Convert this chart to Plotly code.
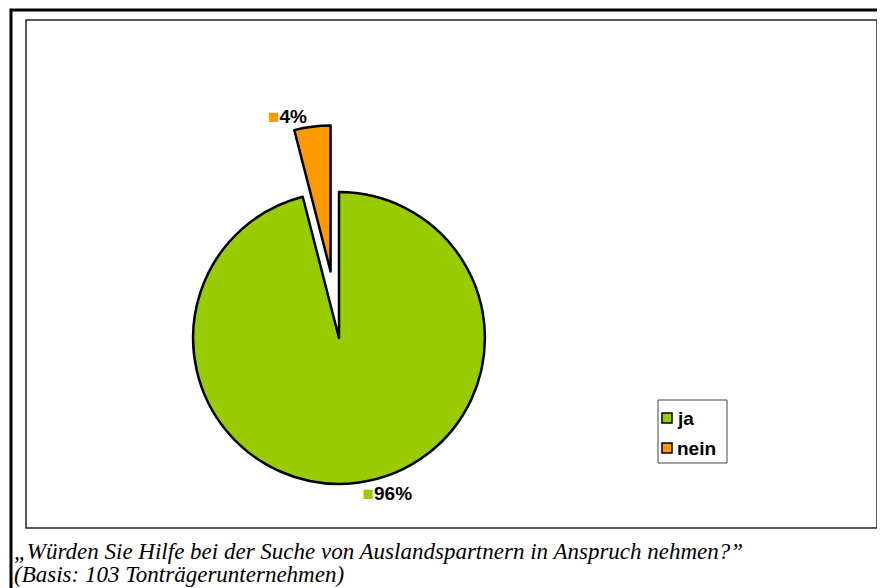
import plotly.graph_objects as go

# Umfrage: "Würden Sie Hilfe bei der Suche von Auslandspartnern in Anspruch nehmen?"
labels = ['ja', 'nein']
values = [96, 4]
colors = ['#99CC00', '#FF9900']
pulls = [0, 0.46]

caption_lines = [
    '„Würden Sie Hilfe bei der Suche von Auslandspartnern in Anspruch nehmen?”',
    '(Basis: 103 Tonträgerunternehmen)',
]

W, H = 885, 588
OFF = 8  # body-margin der seite, damit bildschirm-pixel stimmen


def px(x):
    return (x - OFF) / W


def py(y):
    return 1 - (y - OFF) / H


bold_font = dict(family='Arial, Liberation Sans, sans-serif', size=19, color='black')

# prozentlabels mit farbigem kästchen davor
templates = [f"<b><span style='color:{c}'>■</span>%{{percent:.0%}}</b>" for c in colors]

fig = go.Figure()
fig.add_trace(go.Pie(
    labels=labels,
    values=values,
    marker=dict(colors=colors, line=dict(color='black', width=2.5)),
    pull=pulls,
    sort=False,
    direction='clockwise',
    rotation=0,
    texttemplate=templates,
    textposition='outside',
    textfont=bold_font,
    hoverinfo='label+percent',
    showlegend=False,
    domain=dict(x=[px(339 - 213), px(339 + 213)], y=[py(551), py(125)]),
))

shapes = [
    # äußerer rahmen
    dict(type='rect', xref='paper', yref='paper', x0=px(11), x1=px(910), y0=py(10), y1=py(640),
         line=dict(color='black', width=3), fillcolor='rgba(0,0,0,0)'),
    # innerer rahmen (plotfläche)
    dict(type='rect', xref='paper', yref='paper', x0=px(26), x1=px(877), y0=py(20), y1=py(528),
         line=dict(color='#222222', width=1.5), fillcolor='rgba(0,0,0,0)'),
    # legendenrahmen
    dict(type='rect', xref='paper', yref='paper', x0=px(658), x1=px(727), y0=py(400), y1=py(463),
         line=dict(color='#444444', width=1), fillcolor='white'),
]

annotations = []
# legende von hand
for i, (lab, col) in enumerate(zip(labels, colors)):
    yc = 418 + i * 30
    shapes.append(dict(type='rect', xref='paper', yref='paper',
                       x0=px(662), x1=px(672), y0=py(yc - 5), y1=py(yc + 5),
                       line=dict(color='black', width=1.5), fillcolor=col))
    annotations.append(dict(text=f'<b>{lab}</b>', x=px(675), y=py(yc), xref='paper', yref='paper',
                            xanchor='left', yanchor='middle', showarrow=False, font=bold_font))

for i, line in enumerate(caption_lines):
    annotations.append(dict(
        text=f'<i>{line}</i>',
        x=px(12), y=py(551 + i * 23), xref='paper', yref='paper', xanchor='left', yanchor='middle',
        align='left', showarrow=False,
        font=dict(family='Times New Roman, Liberation Serif, serif', size=23, color='black'),
    ))

fig.update_layout(
    width=W, height=H,
    margin=dict(l=0, r=0, t=0, b=0, autoexpand=False),
    paper_bgcolor='white',
    plot_bgcolor='white',
    shapes=shapes,
    annotations=annotations,
)

fig.write_html('out.html')
